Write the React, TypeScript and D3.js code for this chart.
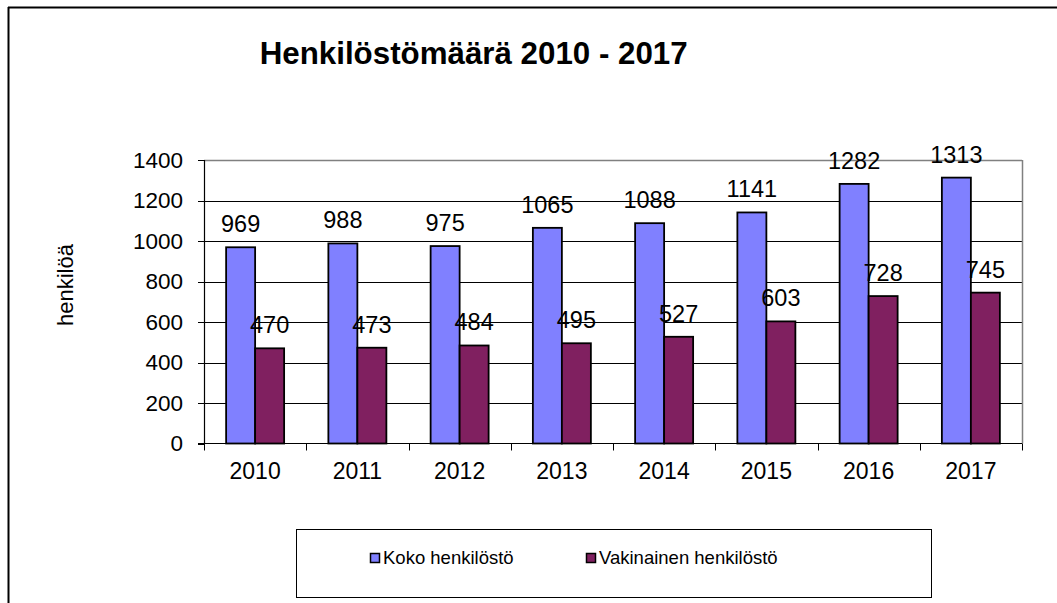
import React from "react";
import * as d3 from "d3";

const years = ["2010", "2011", "2012", "2013", "2014", "2015", "2016", "2017"];
const kokoValues = [969, 988, 975, 1065, 1088, 1141, 1282, 1313];
const vakinainenValues = [470, 473, 484, 495, 527, 603, 728, 745];
const seriesNames = ["Koko henkilöstö", "Vakinainen henkilöstö"];
const seriesColors = ["#8080FF", "#802060"];
const yTicks = [0, 200, 400, 600, 800, 1000, 1200, 1400];
const titleText = "Henkilöstömäärä 2010 - 2017";
const yAxisTitle = "henkilöä";

const W = 1057;
const H = 603;
const FONT = "'Liberation Sans', Arial, sans-serif";

export default function App() {
  const left = 204;
  const right = 1022;
  const top = 160;
  const bottom = 443.5;

  const x = d3.scaleBand<string>().domain(years).range([left, right]).paddingInner(0).paddingOuter(0);
  const xs = d3
    .scaleBand<string>()
    .domain(seriesNames)
    .range([0, x.bandwidth()])
    .paddingInner(0)
    .paddingOuter(0.763);
  const y = d3.scaleLinear().domain([0, 1400]).range([bottom, top]);

  const seriesData = [kokoValues, vakinainenValues];

  return (
    <svg
      width={W}
      height={H}
      style={{ position: "absolute", left: 0, top: 0, display: "block", background: "#fff" }}
      fontFamily={FONT}
    >
      <rect x={0} y={0} width={W} height={H} fill="#fff" />
      {/* outer frame */}
      <line x1={8} y1={7.5} x2={W} y2={7.5} stroke="#000" strokeWidth={2} />
      <line x1={8.5} y1={7} x2={8.5} y2={H} stroke="#000" strokeWidth={2} />

      {/* title */}
      <text x={473.7} y={63.5} textAnchor="middle" fontSize={31.3} fontWeight="bold" fill="#000">
        {titleText}
      </text>

      {/* gridlines */}
      {yTicks.filter((t) => t > 0 && t < 1400).map((t) => (
        <line key={t} x1={left} x2={right} y1={Math.round(y(t)) + 0.5} y2={Math.round(y(t)) + 0.5} stroke="#000" strokeWidth={1} />
      ))}
      {/* top and right border (grey) */}
      <line x1={left} x2={right} y1={y(1400) + 0.5} y2={y(1400) + 0.5} stroke="#808080" strokeWidth={1.5} />
      <line x1={right + 0.5} x2={right + 0.5} y1={y(1400)} y2={bottom} stroke="#808080" strokeWidth={1.5} />

      {/* bars */}
      {years.map((yr, i) =>
        seriesNames.map((s, j) => {
          const v = seriesData[j][i];
          const bx = (x(yr) as number) + (xs(s) as number);
          return (
            <rect
              key={yr + s}
              x={bx}
              y={y(v)}
              width={xs.bandwidth()}
              height={bottom - y(v)}
              fill={seriesColors[j]}
              stroke="#000"
              strokeWidth={1.8}
            />
          );
        })
      )}

      {/* axes */}
      <line x1={left + 0.5} x2={left + 0.5} y1={top} y2={bottom} stroke="#000" strokeWidth={1.2} />
      <line x1={left - 6} x2={right} y1={bottom} y2={bottom} stroke="#000" strokeWidth={1.2} />
      {yTicks.map((t) => (
        <g key={t}>
          <line x1={left - 6} x2={left} y1={Math.round(y(t)) + 0.5} y2={Math.round(y(t)) + 0.5} stroke="#000" strokeWidth={1} />
          <text x={183} y={y(t)} dy="0.35em" textAnchor="end" fontSize={22.5} fill="#000">
            {t}
          </text>
        </g>
      ))}
      {years.map((yr) => (
        <line
          key={"xt" + yr}
          x1={Math.round(x(yr) as number) + 0.5}
          x2={Math.round(x(yr) as number) + 0.5}
          y1={bottom}
          y2={bottom + 7}
          stroke="#000"
          strokeWidth={1}
        />
      ))}
      <line x1={right + 0.5} x2={right + 0.5} y1={bottom} y2={bottom + 7} stroke="#000" strokeWidth={1} />
      {years.map((yr) => (
        <text
          key={"xl" + yr}
          x={(x(yr) as number) + x.bandwidth() / 2}
          y={471}
          dy="0.35em"
          textAnchor="middle"
          fontSize={23}
          fill="#000"
        >
          {yr}
        </text>
      ))}

      {/* data labels */}
      {years.map((yr, i) =>
        seriesNames.map((s, j) => {
          const v = seriesData[j][i];
          const cx = (x(yr) as number) + (xs(s) as number) + xs.bandwidth() / 2;
          return (
            <text key={"dl" + yr + s} x={cx} y={y(v) - 15} textAnchor="middle" fontSize={23.5} fill="#000">
              {v}
            </text>
          );
        })
      )}

      {/* y axis title */}
      <text
        transform={`translate(73, 285) rotate(-90)`}
        textAnchor="middle"
        fontSize={22}
        fill="#000"
      >
        {yAxisTitle}
      </text>

      {/* legend */}
      <rect x={296.5} y={529.5} width={635} height={68} fill="#fff" stroke="#000" strokeWidth={1} />
      {seriesNames.map((s, j) => {
        const mx = j === 0 ? 370 : 586;
        return (
          <g key={"lg" + s}>
            <rect x={mx + 0.5} y={553.5} width={9} height={9} fill={seriesColors[j]} stroke="#000" strokeWidth={1.5} />
            <text x={mx + 13} y={558} dy="0.35em" fontSize={18.5} fill="#000">
              {s}
            </text>
          </g>
        );
      })}
    </svg>
  );
}
